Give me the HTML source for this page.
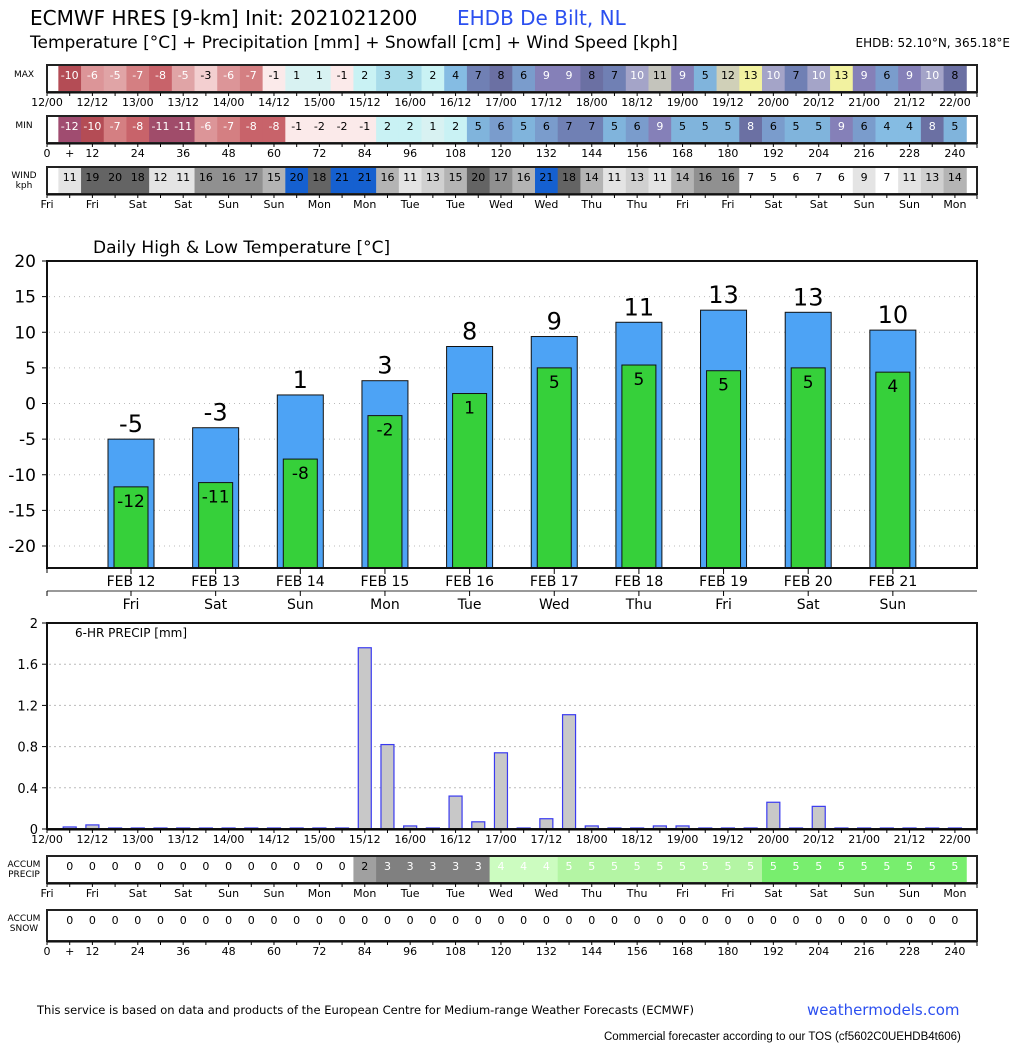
<!DOCTYPE html>
<html><head><meta charset="utf-8">
<style>
body{margin:0;background:#fff;}
svg{display:block;font-family:"DejaVu Sans","Liberation Sans",sans-serif;}
</style></head>
<body>
<svg id="c" width="1024" height="1044" viewBox="0 0 1024 1044" xmlns="http://www.w3.org/2000/svg">
<text x="30" y="25" font-size="20" fill="#000">ECMWF HRES [9-km] Init: 2021021200</text>
<text x="457" y="25" font-size="20" fill="#2b4ff0">EHDB De Bilt,  NL</text>
<text x="30" y="48" font-size="17" fill="#000">Temperature [°C] + Precipitation [mm] + Snowfall [cm] + Wind Speed [kph]</text>
<text x="1010" y="47" font-size="12" text-anchor="end" fill="#000">EHDB: 52.10°N, 365.18°E</text>
<text x="93" y="253" font-size="17" fill="#000">Daily High &amp; Low Temperature [°C]</text>
<text x="37" y="1014" font-size="11.5" fill="#000">This service is based on data and products of the European Centre for Medium-range Weather Forecasts (ECMWF)</text>
<text x="807" y="1015" font-size="15" fill="#2b4ff0">weathermodels.com</text>
<text x="604" y="1040" font-size="11.5" fill="#000" font-family="Liberation Sans, sans-serif">Commercial forecaster according to our TOS (cf5602C0UEHDB4t606)</text>
<g id="g"></g>
</svg>
<script>
const maxT=[-10,-6,-5,-7,-8,-5,-3,-6,-7,-1,1,1,-1,2,3,3,2,4,7,8,6,9,9,8,7,10,11,9,5,12,13,10,7,10,13,9,6,9,10,8];
const minT=[-12,-10,-7,-8,-11,-11,-6,-7,-8,-8,-1,-2,-2,-1,2,2,1,2,5,6,5,6,7,7,5,6,9,5,5,5,8,6,5,5,9,6,4,4,8,5];
const wind=[11,19,20,18,12,11,16,16,17,15,20,18,21,21,16,11,13,15,20,17,16,21,18,14,11,13,11,14,16,16,7,5,6,7,6,9,7,11,13,14];
const accP=[0,0,0,0,0,0,0,0,0,0,0,0,0,2,3,3,3,3,3,4,4,4,5,5,5,5,5,5,5,5,5,5,5,5,5,5,5,5,5,5];
const accS=[0,0,0,0,0,0,0,0,0,0,0,0,0,0,0,0,0,0,0,0,0,0,0,0,0,0,0,0,0,0,0,0,0,0,0,0,0,0,0,0];
const precip=[0.01,0.03,0,0,0,0,0,0,0,0,0,0,0,1.75,0.81,0.02,0,0.31,0.06,0.73,0,0.09,1.1,0.02,0,0,0.02,0.02,0,0,0,0.25,0,0.21,0,0,0,0,0,0];
const days=["FEB 12","FEB 13","FEB 14","FEB 15","FEB 16","FEB 17","FEB 18","FEB 19","FEB 20","FEB 21"];
const dows=["Fri","Sat","Sun","Mon","Tue","Wed","Thu","Fri","Sat","Sun"];
const dHigh=[-5.0,-3.4,1.2,3.2,8.0,9.4,11.4,13.1,12.8,10.3];
const dLow=[-11.7,-11.1,-7.8,-1.7,1.4,5.0,5.4,4.6,5.0,4.4];
const timeLabels=["12/00","12/12","13/00","13/12","14/00","14/12","15/00","15/12","16/00","16/12","17/00","17/12","18/00","18/12","19/00","19/12","20/00","20/12","21/00","21/12","22/00"];
const hourLabels=["0","12","24","36","48","60","72","84","96","108","120","132","144","156","168","180","192","204","216","228","240"];
const dayLabels=["Fri","Fri","Sat","Sat","Sun","Sun","Mon","Mon","Tue","Tue","Wed","Wed","Thu","Thu","Fri","Fri","Sat","Sat","Sun","Sun","Mon"];
const tempTicks=[20,15,10,5,0,-5,-10,-15,-20];
const precipTicks=[0,0.4,0.8,1.2,1.6,2];

const NS="http://www.w3.org/2000/svg";
const G=document.getElementById('g');
function mk(t,a,p){const e=document.createElementNS(NS,t);for(const k in a)e.setAttribute(k,a[k]);(p||G).appendChild(e);return e;}
function tx(x,y,s,o){const e=mk('text',Object.assign({x:x,y:y,'font-size':12,'text-anchor':'middle',fill:'#000'},o||{}));e.textContent=s;return e;}
const xh=h=>47+h*3.783;
const CW=22.7;

function tcol(v){
 const m={"-12":"#a04c70","-11":"#a04c6a","-10":"#b44c55","-8":"#c8636a","-7":"#d47f82","-6":"#dc9598","-5":"#e0a4a6","-3":"#f3cfd0","-2":"#fbeaea","-1":"#fbeaea","1":"#d8f2f2","2":"#c9f2f4","3":"#a8dcea","4":"#85bce3","5":"#80b4dc","6":"#7a9ccc","7":"#7080b4","8":"#6b70a3","9":"#8580b8","10":"#a4a4c8","11":"#c4c4bc","12":"#d0d0b8","13":"#f2f2a0"};
 return m[v]||"#fff";}
function wcol(v){if(v>=18)return"#646464";if(v>=16)return"#909090";if(v>=14)return"#b4b4b4";if(v>=13)return"#d0d0d0";if(v>=9)return"#e4e4e4";return"#fff";}
const windCol=wind.map((v,i)=>(v>=21||(v==20&&i==10))?"#1560d0":wcol(v));
const windCol2=windCol.map((c,i)=>(i==14||i==20||i==9||i==17)?"#b4b4b4":c);
function pcol(v,i){if(v==0)return"#fff";if(v==2)return"#a0a0a0";if(v==3)return"#808080";if(v==4)return"#ccfcc0";return i<31?"#b4f5a4":"#78ee6e";}

function strip(y0,h,vals,colf,txtf,name,label1,label2){
 const g=mk('g',{});
 
 
 mk('rect',{x:47,y:y0,width:930,height:h,fill:'#fff'},g);
 vals.forEach((v,i)=>{
  const cx=xh(6*(i+1));
  const r=mk('rect',{x:cx-CW/2,y:y0,width:CW+0.5,height:h,fill:colf(v,i)},g);
  
  
  const t=tx(cx,y0+14,String(v),{fill:txtf(v,i),'font-size':11});
  
  
 });
 mk('rect',{x:47,y:y0,width:930,height:h,fill:'none',stroke:'#222','stroke-width':2},g);
 if(label2){tx(24,y0+11,label1,{'font-size':9});tx(24,y0+21,label2,{'font-size':9});}
 else tx(24,y0+12,label1,{'font-size':9});
}
function axisTicks(y,labels,opt){
 for(let h=0;h<=240;h+=6){mk('line',{x1:xh(h),x2:xh(h),y1:y,y2:y+3,stroke:'#000'});}
 mk('line',{x1:47,x2:977,y1:y,y2:y,stroke:'#000'});
 mk('line',{x1:977,x2:977,y1:y,y2:y+4,stroke:'#000'});
 labels.forEach((s,i)=>{const t=tx(xh(i*12),y+13,s,{'font-size':11});});
 if(opt)tx(xh(6),y+13,'+',{'font-size':11});
}
strip(65,27,maxT,v=>tcol(v),(v,i)=>(v<=-5||v>=9&&v!=11&&v!=12&&v!=13||v==8||v==7||v==6)?((v==6||v==7||v==8)?"#000":"#fff"):"#000",'max-temp-strip','MAX');
axisTicks(93,timeLabels,false);
strip(116,27,minT,v=>tcol(v),(v,i)=>(v<=-6||v==9||v==8)?"#fff":"#000",'min-temp-strip','MIN');
axisTicks(144,hourLabels,true);
strip(167,27,wind,(v,i)=>windCol2[i],(v,i)=>"#000",'wind-strip','WIND','kph');
axisTicks(195,dayLabels,false);

// temperature chart
const tY=v=>261+(20-v)*7.125;
const xd=i=>131+i*84.65;
const tg=mk('g',{});


tempTicks.forEach(v=>{
 if(v!=20)mk('line',{x1:49,x2:975,y1:tY(v),y2:tY(v),stroke:'#bbb','stroke-dasharray':'1,4'},tg);
 mk('line',{x1:42,x2:47,y1:tY(v),y2:tY(v),stroke:'#000'},tg);
 const t=tx(36,tY(v)+6,String(v),{'text-anchor':'end','font-size':17});
 
 
});
const bot=568;
dHigh.forEach((v,i)=>{
 const b=mk('rect',{x:xd(i)-23,y:tY(v),width:46,height:bot-tY(v),fill:'#4da3f5',stroke:'#111','stroke-width':1},tg);
 
 
 const t=tx(xd(i),tY(v)-7,String(Math.round(v)),{'font-size':24});
 
 
});
dLow.forEach((v,i)=>{
 const b=mk('rect',{x:xd(i)-17,y:tY(v),width:34,height:bot-tY(v),fill:'#36d03a',stroke:'#111','stroke-width':1},tg);
 
 
 const t=tx(xd(i),tY(v)+20,String(Math.round(v)),{'font-size':17});
 
 
});
mk('rect',{x:47,y:261,width:930,height:307,fill:'none',stroke:'#111','stroke-width':2},tg);
mk('line',{x1:47,x2:977,y1:591,y2:591,stroke:'#333'},tg);
mk('line',{x1:47,x2:47,y1:568,y2:573,stroke:'#000'},tg);mk('line',{x1:47,x2:47,y1:591,y2:596,stroke:'#000'},tg);
days.forEach((d,i)=>{
 mk('line',{x1:xd(i),x2:xd(i),y1:568,y2:574,stroke:'#000'},tg);
 mk('line',{x1:xd(i),x2:xd(i),y1:591,y2:596,stroke:'#000'},tg);
 const t=tx(xd(i),586,d,{'font-size':14});
 const t2=tx(xd(i),609,dows[i],{'font-size':14});
});

// precip chart
const pY=v=>829-v*103;
const pg=mk('g',{});


precipTicks.forEach(v=>{
 if(v>0&&v<2)mk('line',{x1:49,x2:975,y1:pY(v),y2:pY(v),stroke:'#bbb','stroke-dasharray':'2,3'},pg);
 mk('line',{x1:42,x2:47,y1:pY(v),y2:pY(v),stroke:'#000'},pg);
 const t=tx(38,pY(v)+5,String(v),{'text-anchor':'end','font-size':13});
 
});
tx(75,637,'6-HR PRECIP [mm]',{'text-anchor':'start','font-size':12});
precip.forEach((v,i)=>{
 const cx=xh(6*(i+1));
 const b=mk('rect',{x:cx-6.5,y:pY(v)-1,width:13,height:v*103+1,fill:'#c8c8c8',stroke:'#3a3af0','stroke-width':1.2},pg);
 
 
});
mk('rect',{x:47,y:623,width:930,height:206,fill:'none',stroke:'#111','stroke-width':2},pg);
axisTicks(830,timeLabels,false);

strip(856,27,accP,(v,i)=>pcol(v,i),(v,i)=>v>=4||v==3?"#fff":"#000",'accum-precip-strip','ACCUM','PRECIP');
axisTicks(884,dayLabels,false);
strip(910,31,accS,()=>"#fff",()=>"#000",'accum-snow-strip','ACCUM','SNOW');
axisTicks(942,hourLabels,true);
</script>
</body></html>
